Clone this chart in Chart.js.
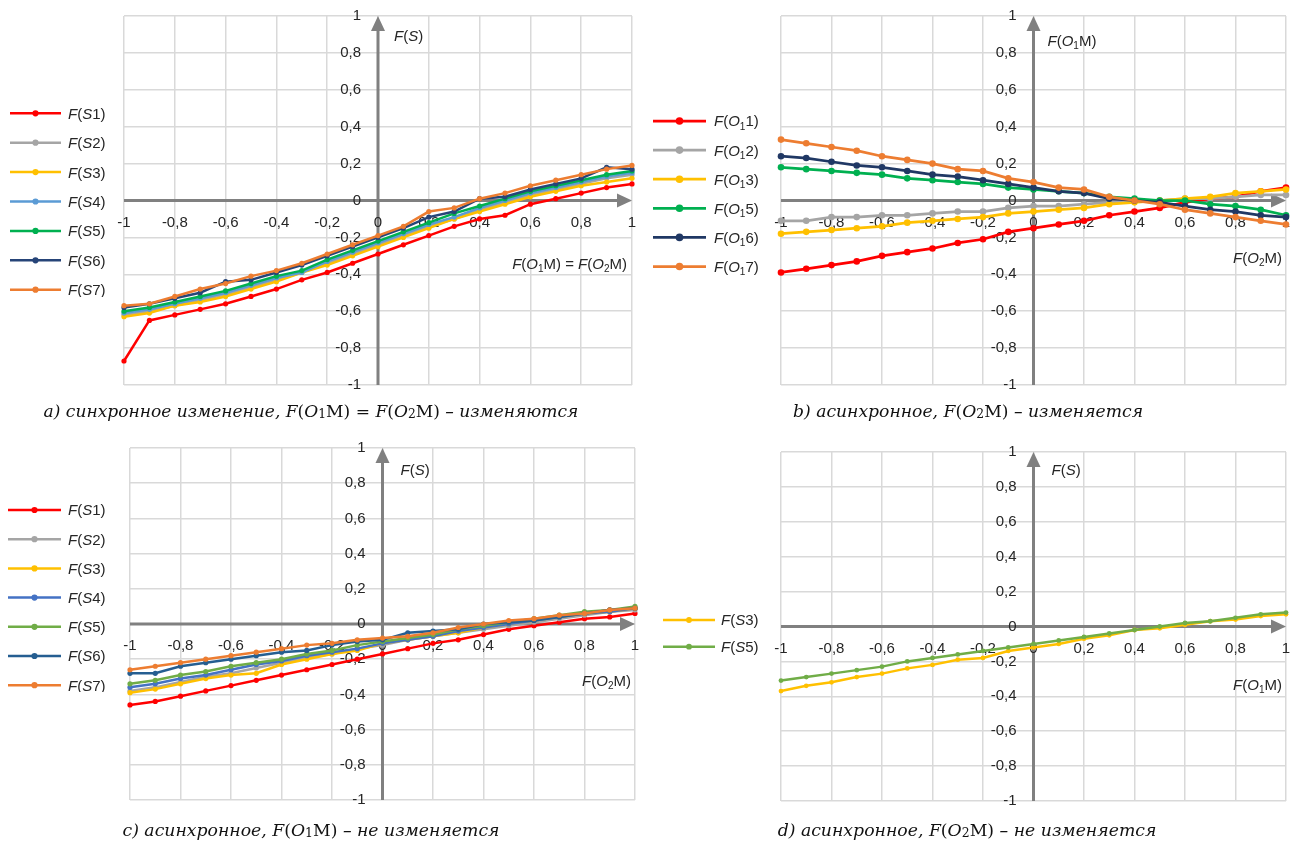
<!DOCTYPE html>
<html>
<head>
<meta charset="utf-8">
<script src="https://cdn.jsdelivr.net/npm/chart.js@4.4.1/dist/chart.umd.min.js"></script>
<style>
  body { margin: 0; background: #fff; width: 1291px; height: 843px; position: relative; overflow: hidden; }
  canvas { position: absolute; }
  .cap { position: absolute; font-family: "DejaVu Serif", serif; font-style: italic; font-size: 16px;
         white-space: nowrap; color: #111; transform: translate(-50%, -50%); }
  .cap .u { font-style: normal; }
  .cap sub { font-style: normal; font-size: 72%; vertical-align: baseline; position: relative; top: 0.12em; }
</style>
</head>
<body>
<canvas id="ca" width="645" height="420" style="left:0;top:0"></canvas>
<canvas id="cb" width="646" height="420" style="left:645px;top:0"></canvas>
<canvas id="cc" width="645" height="423" style="left:0;top:420px"></canvas>
<canvas id="cd" width="646" height="423" style="left:645px;top:420px"></canvas>

<div class="cap" data-w="535" style="left:311px;top:411px">a) синхронное изменение, F<span class="u">(</span>O<sub>1</sub><span class="u">M)</span> = F<span class="u">(</span>O<sub>2</sub><span class="u">M)</span> – изменяются</div>
<div class="cap" data-w="350" style="left:968px;top:411px">b) асинхронное, F<span class="u">(</span>O<sub>2</sub><span class="u">M)</span> – изменяется</div>
<div class="cap" data-w="377" style="left:311px;top:830px">c) асинхронное, F<span class="u">(</span>O<sub>1</sub><span class="u">M)</span> – не изменяется</div>
<div class="cap" data-w="379" style="left:967px;top:830px">d) асинхронное, F<span class="u">(</span>O<sub>2</sub><span class="u">M)</span> – не изменяется</div>

<script>
// x values shared by every series
const xs = [-1, -0.9, -0.8, -0.7, -0.6, -0.5, -0.4, -0.3, -0.2, -0.1, 0, 0.1, 0.2, 0.3, 0.4, 0.5, 0.6, 0.7, 0.8, 0.9, 1];
const tickValues = [-1, -0.8, -0.6, -0.4, -0.2, 0, 0.2, 0.4, 0.6, 0.8, 1];
const tickLabels = ['-1', '-0,8', '-0,6', '-0,4', '-0,2', '0', '0,2', '0,4', '0,6', '0,8', '1'];

// a) synchronous change
const aS1 = [-0.87, -0.65, -0.62, -0.59, -0.56, -0.52, -0.48, -0.43, -0.39, -0.34, -0.29, -0.24, -0.19, -0.14, -0.10, -0.08, -0.02, 0.01, 0.04, 0.07, 0.09];
const aS2 = [-0.62, -0.60, -0.57, -0.54, -0.51, -0.47, -0.43, -0.39, -0.34, -0.29, -0.24, -0.19, -0.14, -0.10, -0.05, -0.01, 0.03, 0.06, 0.09, 0.12, 0.14];
const aS3 = [-0.63, -0.61, -0.57, -0.55, -0.52, -0.48, -0.44, -0.39, -0.35, -0.30, -0.25, -0.20, -0.15, -0.10, -0.06, -0.02, 0.02, 0.05, 0.08, 0.10, 0.12];
const aS4 = [-0.61, -0.59, -0.56, -0.53, -0.50, -0.46, -0.42, -0.39, -0.33, -0.28, -0.23, -0.18, -0.13, -0.09, -0.04, 0.00, 0.04, 0.07, 0.10, 0.13, 0.15];
const aS5 = [-0.60, -0.58, -0.55, -0.52, -0.49, -0.45, -0.41, -0.38, -0.32, -0.27, -0.22, -0.17, -0.12, -0.07, -0.03, 0.01, 0.05, 0.08, 0.11, 0.14, 0.16];
const aS6 = [-0.58, -0.56, -0.53, -0.50, -0.44, -0.43, -0.39, -0.35, -0.30, -0.25, -0.20, -0.15, -0.09, -0.06, 0.01, 0.02, 0.06, 0.09, 0.12, 0.18, 0.17];
const aS7 = [-0.57, -0.56, -0.52, -0.48, -0.45, -0.41, -0.38, -0.34, -0.29, -0.24, -0.19, -0.14, -0.06, -0.04, 0.01, 0.04, 0.08, 0.11, 0.14, 0.17, 0.19];

// b) asynchronous, F(O2M) changes
const bO1 = [-0.39, -0.37, -0.35, -0.33, -0.30, -0.28, -0.26, -0.23, -0.21, -0.17, -0.15, -0.13, -0.11, -0.08, -0.06, -0.04, -0.01, 0.01, 0.02, 0.05, 0.07];
const bO2 = [-0.11, -0.11, -0.09, -0.09, -0.08, -0.08, -0.07, -0.06, -0.06, -0.04, -0.03, -0.03, -0.02, -0.01, 0.00, 0.00, 0.01, 0.01, 0.02, 0.03, 0.03];
const bO3 = [-0.18, -0.17, -0.16, -0.15, -0.14, -0.12, -0.11, -0.10, -0.09, -0.07, -0.06, -0.05, -0.04, -0.02, -0.01, 0.00, 0.01, 0.02, 0.04, 0.05, 0.06];
const bO5 = [0.18, 0.17, 0.16, 0.15, 0.14, 0.12, 0.11, 0.10, 0.09, 0.07, 0.06, 0.05, 0.04, 0.02, 0.01, 0.00, 0.00, -0.02, -0.03, -0.05, -0.08];
const bO6 = [0.24, 0.23, 0.21, 0.19, 0.18, 0.16, 0.14, 0.13, 0.11, 0.09, 0.07, 0.05, 0.04, 0.01, 0.00, -0.01, -0.03, -0.05, -0.06, -0.08, -0.09];
const bO7 = [0.33, 0.31, 0.29, 0.27, 0.24, 0.22, 0.20, 0.17, 0.16, 0.12, 0.10, 0.07, 0.06, 0.02, 0.00, -0.02, -0.05, -0.07, -0.09, -0.11, -0.13];

// c) asynchronous, F(O1M) fixed
const cS1 = [-0.46, -0.44, -0.41, -0.38, -0.35, -0.32, -0.29, -0.26, -0.23, -0.20, -0.17, -0.14, -0.11, -0.09, -0.06, -0.03, -0.01, 0.01, 0.03, 0.04, 0.06];
const cS2 = [-0.38, -0.36, -0.33, -0.30, -0.28, -0.25, -0.22, -0.19, -0.17, -0.14, -0.12, -0.09, -0.07, -0.05, -0.03, -0.01, 0.01, 0.03, 0.05, 0.07, 0.08];
const cS3 = [-0.39, -0.37, -0.34, -0.31, -0.29, -0.28, -0.23, -0.20, -0.17, -0.15, -0.11, -0.09, -0.07, -0.05, -0.02, 0.00, 0.02, 0.04, 0.06, 0.07, 0.09];
const cS4 = [-0.36, -0.34, -0.31, -0.29, -0.26, -0.23, -0.21, -0.18, -0.16, -0.14, -0.11, -0.09, -0.07, -0.04, -0.02, 0.00, 0.02, 0.04, 0.06, 0.07, 0.09];
const cS5 = [-0.34, -0.32, -0.29, -0.27, -0.24, -0.22, -0.20, -0.17, -0.15, -0.12, -0.10, -0.08, -0.06, -0.03, -0.01, 0.01, 0.03, 0.05, 0.07, 0.08, 0.10];
const cS6 = [-0.28, -0.28, -0.24, -0.22, -0.20, -0.18, -0.16, -0.15, -0.12, -0.10, -0.09, -0.05, -0.04, -0.03, 0.00, 0.01, 0.02, 0.04, 0.06, 0.08, 0.09];
const cS7 = [-0.26, -0.24, -0.22, -0.20, -0.18, -0.16, -0.14, -0.12, -0.11, -0.09, -0.08, -0.07, -0.05, -0.02, 0.00, 0.02, 0.03, 0.05, 0.06, 0.08, 0.09];

// d) asynchronous, F(O2M) fixed
const dS3 = [-0.37, -0.34, -0.32, -0.29, -0.27, -0.24, -0.22, -0.19, -0.18, -0.14, -0.12, -0.10, -0.07, -0.05, -0.02, -0.01, 0.01, 0.03, 0.04, 0.06, 0.07];
const dS5 = [-0.31, -0.29, -0.27, -0.25, -0.23, -0.20, -0.18, -0.16, -0.14, -0.12, -0.10, -0.08, -0.06, -0.04, -0.02, 0.00, 0.02, 0.03, 0.05, 0.07, 0.08];

// legend labels: *..* italic, _.._ subscript
const sLabels = ['*F*(*S*1)', '*F*(*S*2)', '*F*(*S*3)', '*F*(*S*4)', '*F*(*S*5)', '*F*(*S*6)', '*F*(*S*7)'];
const oLabels = ['*F*(*O*_1_1)', '*F*(*O*_1_2)', '*F*(*O*_1_3)', '*F*(*O*_1_5)', '*F*(*O*_1_6)', '*F*(*O*_1_7)'];
const dLabels = ['*F*(*S*3)', '*F*(*S*5)'];

const FAM = '"Liberation Sans", Arial, sans-serif';
const TICK = 15;
const TEXT = 15;
const TXT = '#262626';

function drawRich(ctx, str, x, y, size, align) {
  const parts = [];
  let mode = 'n', buf = '';
  for (const ch of str) {
    if (ch === '*' || ch === '_') {
      if (buf) parts.push([buf, mode]);
      buf = '';
      const m = ch === '*' ? 'i' : 's';
      mode = mode === m ? 'n' : m;
    } else buf += ch;
  }
  if (buf) parts.push([buf, mode]);
  const fontOf = m => m === 'i' ? `italic ${size}px ${FAM}` : m === 's' ? `${Math.round(size * 0.66)}px ${FAM}` : `${size}px ${FAM}`;
  let w = 0;
  parts.forEach(p => { ctx.font = fontOf(p[1]); p.push(ctx.measureText(p[0]).width); w += p[2]; });
  let cx = align === 'right' ? x - w : x;
  ctx.textAlign = 'left';
  ctx.textBaseline = 'alphabetic';
  parts.forEach(p => {
    ctx.font = fontOf(p[1]);
    ctx.fillText(p[0], cx, y + (p[1] === 's' ? size * 0.22 : 0));
    cx += p[2];
  });
}

// axes with arrows, tick labels, axis titles, legend
const deco = {
  id: 'deco',
  beforeDatasetsDraw(chart, args, o) {
    const { ctx, chartArea: ca, scales: { x, y } } = chart;
    const x0 = x.getPixelForValue(0), y0 = y.getPixelForValue(0);
    ctx.save();
    ctx.strokeStyle = '#808080';
    ctx.fillStyle = '#808080';
    ctx.lineWidth = 3;
    ctx.beginPath(); ctx.moveTo(ca.left, y0); ctx.lineTo(ca.right - 10, y0); ctx.stroke();
    ctx.beginPath(); ctx.moveTo(x0, ca.bottom); ctx.lineTo(x0, ca.top + 10); ctx.stroke();
    ctx.beginPath(); ctx.moveTo(ca.right, y0); ctx.lineTo(ca.right - 15, y0 - 7); ctx.lineTo(ca.right - 15, y0 + 7); ctx.closePath(); ctx.fill();
    ctx.beginPath(); ctx.moveTo(x0, ca.top); ctx.lineTo(x0 - 7, ca.top + 15); ctx.lineTo(x0 + 7, ca.top + 15); ctx.closePath(); ctx.fill();

    ctx.fillStyle = TXT;
    ctx.font = `${TICK}px ${FAM}`;
    ctx.textBaseline = 'middle';
    ctx.textAlign = 'center';
    x.ticks.forEach(t => {
      ctx.fillText(tickLabels[tickValues.indexOf(t.value)], x.getPixelForValue(t.value), y0 + 22);
    });
    ctx.textAlign = 'right';
    y.ticks.forEach(t => {
      ctx.fillText(tickLabels[tickValues.indexOf(t.value)], x0 - 17, y.getPixelForValue(t.value));
    });

    drawRich(ctx, o.yTitle, x0 + o.yTitleDx, o.yTitleY, TEXT, 'left');
    drawRich(ctx, o.xTitle, o.xTitleX, y0 + o.xTitleDy, TEXT, 'right');
    ctx.restore();
  },
  afterDraw(chart, args, o) {
    const { ctx } = chart;
    const L = o.legend;
    ctx.save();
    ctx.beginPath(); ctx.rect(0, 0, L.textX + 80, L.clip); ctx.clip();
    chart.data.datasets.forEach((ds, i) => {
      const ry = L.y + i * L.step;
      ctx.strokeStyle = ds.borderColor;
      ctx.fillStyle = ds.borderColor;
      ctx.lineWidth = ds.borderWidth;
      ctx.beginPath(); ctx.moveTo(L.x1, ry); ctx.lineTo(L.x2, ry); ctx.stroke();
      ctx.beginPath(); ctx.arc((L.x1 + L.x2) / 2, ry, ds.pointRadius + 0.5, 0, Math.PI * 2); ctx.fill();
      ctx.fillStyle = TXT;
      drawRich(ctx, ds.label, L.textX, ry + TEXT * 0.36, TEXT, 'left');
    });
    ctx.restore();
  }
};

function makeChart(id, series, labels, colors, o) {
  const datasets = series.map((vals, i) => ({
    label: labels[i],
    data: xs.map((xv, k) => ({ x: xv, y: vals[k] })),
    borderColor: colors[i],
    backgroundColor: colors[i],
    borderWidth: o.lw,
    pointRadius: o.pr,
    pointHoverRadius: o.pr,
    pointBorderWidth: 0,
    showLine: true,
    order: series.length - 1 - i,
    clip: 8
  }));
  const axis = pos => ({
    type: 'linear', min: -1, max: 1, position: pos,
    afterBuildTicks: s => { s.ticks = tickValues.map(v => ({ value: v })); },
    ticks: { display: false },
    grid: { color: '#d9d9d9', lineWidth: 1.5, drawTicks: false },
    border: { display: false }
  });
  return new Chart(document.getElementById(id), {
    type: 'scatter',
    data: { datasets },
    options: {
      responsive: false,
      animation: false,
      events: [],
      layout: { padding: o.pad },
      scales: { x: axis({ y: 0 }), y: axis({ x: 0 }) },
      plugins: { legend: { display: false }, tooltip: { enabled: false }, deco: o.deco }
    },
    plugins: [deco]
  });
}

makeChart('ca', [aS1, aS2, aS3, aS4, aS5, aS6, aS7], sLabels,
  ['#ff0000', '#a5a5a5', '#ffc000', '#5b9bd5', '#00b050', '#264478', '#ed7d31'],
  { lw: 2.5, pr: 2.6, pad: { left: 124, top: 16, right: 13, bottom: 35 },
    deco: { yTitle: '*F*(*S*)', yTitleDx: 16, yTitleY: 41, xTitle: '*F*(*O*_1_M) = *F*(*O*_2_M)', xTitleX: 627, xTitleDy: 68,
            legend: { x1: 10, x2: 61, textX: 68, y: 113.3, step: 29.4, clip: 297 } } });

makeChart('cb', [bO1, bO2, bO3, bO5, bO6, bO7], oLabels,
  ['#ff0000', '#a5a5a5', '#ffc000', '#00b050', '#203864', '#ed7d31'],
  { lw: 2.75, pr: 3.3, pad: { left: 136, top: 16, right: 5, bottom: 35 },
    deco: { yTitle: '*F*(*O*_1_M)', yTitleDx: 14, yTitleY: 46, xTitle: '*F*(*O*_2_M)', xTitleX: 637, xTitleDy: 62,
            legend: { x1: 8, x2: 61, textX: 69, y: 121, step: 29.1, clip: 400 } } });

makeChart('cc', [cS1, cS2, cS3, cS4, cS5, cS6, cS7], sLabels,
  ['#ff0000', '#a5a5a5', '#ffc000', '#4472c4', '#70ad47', '#255e91', '#ed7d31'],
  { lw: 2.5, pr: 2.6, pad: { left: 130, top: 28, right: 10, bottom: 43 },
    deco: { yTitle: '*F*(*S*)', yTitleDx: 18, yTitleY: 55, xTitle: '*F*(*O*_2_M)', xTitleX: 631, xTitleDy: 62,
            legend: { x1: 8, x2: 61, textX: 68, y: 90, step: 29.2, clip: 272 } } });

makeChart('cd', [dS3, dS5], dLabels,
  ['#ffc000', '#70ad47'],
  { lw: 2.5, pr: 2.4, pad: { left: 136, top: 32, right: 5, bottom: 42 },
    deco: { yTitle: '*F*(*S*)', yTitleDx: 18, yTitleY: 55, xTitle: '*F*(*O*_1_M)', xTitleX: 637, xTitleDy: 63,
            legend: { x1: 18, x2: 70, textX: 76, y: 200, step: 26.7, clip: 400 } } });

// fit the captions to the width they have in the figure
document.querySelectorAll('.cap').forEach(el => {
  const target = +el.dataset.w;
  const w = el.getBoundingClientRect().width;
  el.style.fontSize = (16 * target / w).toFixed(2) + 'px';
});
</script>
</body>
</html>
